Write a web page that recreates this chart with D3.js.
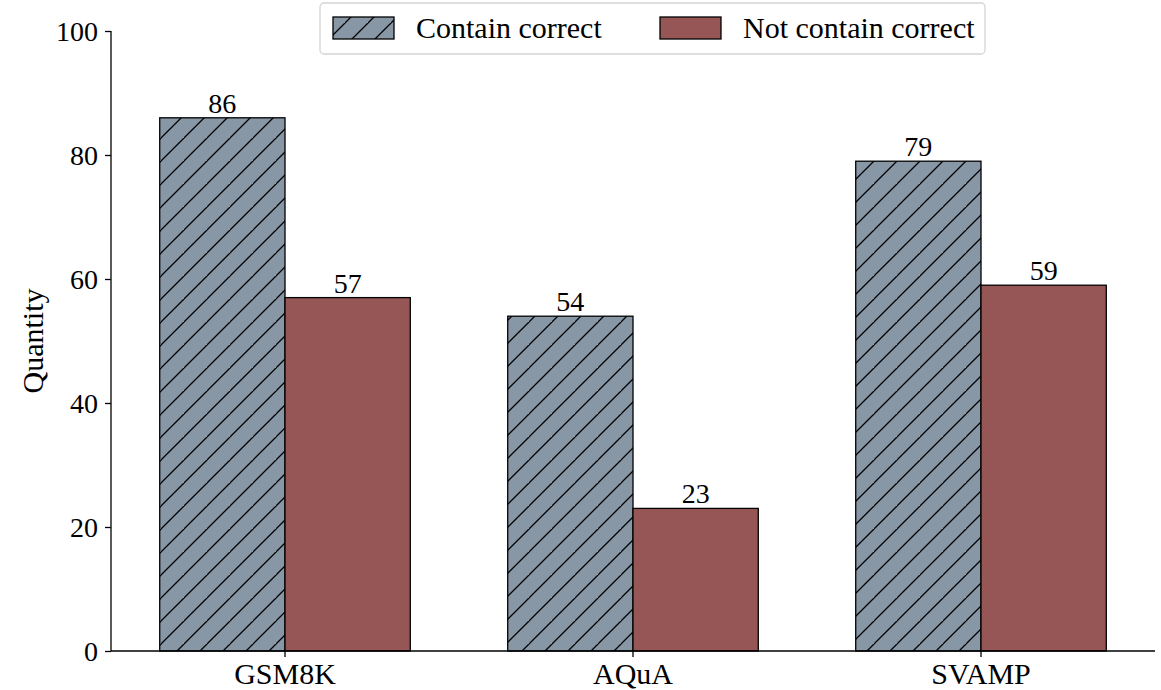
<!DOCTYPE html>
<html>
<head>
<meta charset="utf-8">
<script src="https://d3js.org/d3.v7.min.js"></script>
<style>
  body { margin: 0; background: #fff; }
  text { font-family: "Liberation Serif", "Times New Roman", serif; fill: #000; }
</style>
</head>
<body>
<div id="chartHere"></div>
<script>
// data
var datasets   = ['GSM8K', 'AQuA', 'SVAMP'];
var seriesNames = ['Contain correct', 'Not contain correct'];
var containCorrect    = [86, 54, 79];
var notContainCorrect = [57, 23, 59];
var yTicks = [0, 20, 40, 60, 80, 100];

var dims = { width: 1161, height: 690 };
var margin = { top: 31, right: 6, bottom: 38, left: 111 };
var colors = ['#8897a6', '#975656'];

var svg = d3.select('#chartHere').append('svg')
    .attr('width', dims.width)
    .attr('height', dims.height);

var defs = svg.append('defs');
var pat = defs.append('pattern')
    .attr('id', 'hatch')
    .attr('patternUnits', 'userSpaceOnUse')
    .attr('width', 23).attr('height', 23);
pat.append('rect').attr('width', 23).attr('height', 23).attr('fill', colors[0]);
pat.append('path')
    .attr('d', 'M-2,25 L25,-2 M-25,25 L2,-2 M21,48 L48,21')
    .attr('stroke', '#000').attr('stroke-width', 1.3);

var x0 = d3.scaleBand()
    .domain(datasets)
    .range([margin.left, dims.width - margin.right])
    .paddingInner(0.28)
    .paddingOuter(0.14);

var x1 = d3.scaleBand()
    .domain([0, 1])
    .range([0, x0.bandwidth()]);

var y = d3.scaleLinear()
    .domain([0, 100])
    .range([dims.height - margin.bottom - 1, margin.top]);

var series = [containCorrect, notContainCorrect];
var fills = ['url(#hatch)', colors[1]];

series.forEach(function (vals, s) {
  svg.selectAll('rect.s' + s)
    .data(vals)
    .enter().append('rect')
      .attr('class', 's' + s)
      .attr('x', function (d, i) { return x0(datasets[i]) + x1(s); })
      .attr('y', function (d) { return y(d); })
      .attr('width', x1.bandwidth())
      .attr('height', function (d) { return y(0) - y(d); })
      .attr('fill', fills[s])
      .attr('stroke', '#000')
      .attr('stroke-width', 1.3);

  svg.selectAll('text.lab' + s)
    .data(vals)
    .enter().append('text')
      .attr('class', 'lab' + s)
      .attr('x', function (d, i) { return x0(datasets[i]) + x1(s) + x1.bandwidth() / 2; })
      .attr('y', function (d) { return y(d) - 5; })
      .attr('text-anchor', 'middle')
      .attr('font-size', 28)
      .text(function (d) { return d; });
});

// axes
var xAxis = d3.axisBottom(x0).tickSize(6).tickPadding(6);
var gx = svg.append('g')
    .attr('transform', 'translate(0,' + y(0) + ')')
    .call(xAxis);
gx.selectAll('.tick').attr('transform', function (d) {
  return 'translate(' + (x0(d) + x0.bandwidth() / 2) + ',0)';
});

var yAxis = d3.axisLeft(y).tickValues(yTicks).tickSize(6).tickPadding(7);
var gy = svg.append('g')
    .attr('transform', 'translate(' + margin.left + ',0)')
    .call(yAxis);

[gx, gy].forEach(function (g) {
  g.select('.domain').attr('stroke', '#000').attr('stroke-width', 1.3)
    .attr('d', g === gx
      ? 'M' + margin.left + ',0H' + (dims.width - margin.right)
      : 'M0,' + y(0) + 'V' + y(100));
  g.selectAll('.tick line').attr('stroke', '#000').attr('stroke-width', 1.3);
  g.selectAll('.tick text')
    .attr('font-family', '"Liberation Serif", "Times New Roman", serif')
    .attr('fill', '#000');
});
gx.selectAll('.tick text').attr('font-size', 30);
gy.selectAll('.tick text').attr('font-size', 28).attr('dy', '0.34em');

svg.append('text')
    .attr('transform', 'translate(43,' + ((y(0) + y(100)) / 2) + ') rotate(-90)')
    .attr('text-anchor', 'middle')
    .attr('font-size', 30)
    .text('Quantity');

// legend
var leg = svg.append('g');
leg.append('rect')
    .attr('x', 320).attr('y', 3).attr('width', 665).attr('height', 51)
    .attr('rx', 4).attr('fill', '#fff')
    .attr('stroke', '#d4d4d4').attr('stroke-width', 1.3);
var legX = [333, 660];
seriesNames.forEach(function (name, s) {
  leg.append('rect')
    .attr('x', legX[s]).attr('y', 17).attr('width', 61).attr('height', 22)
    .attr('fill', fills[s]).attr('stroke', '#000').attr('stroke-width', 1.3);
  leg.append('text')
    .attr('x', legX[s] + 83).attr('y', 38)
    .attr('font-size', 30)
    .text(name);
});
</script>
</body>
</html>
